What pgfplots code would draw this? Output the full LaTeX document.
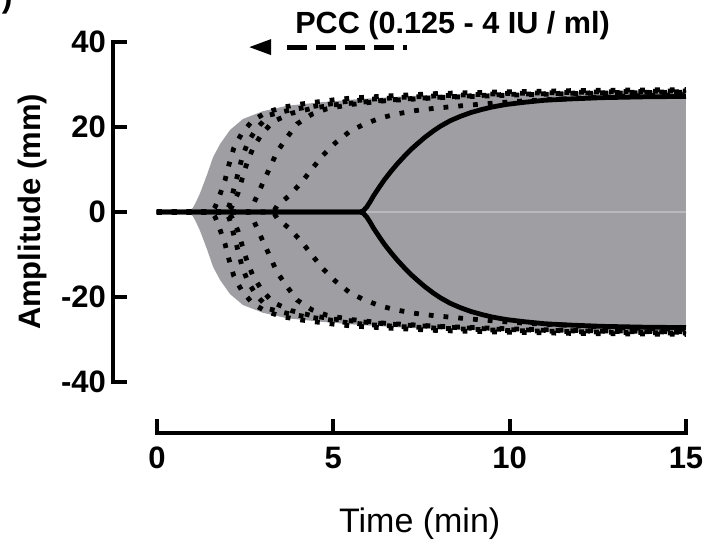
\documentclass[border=0pt]{standalone}
\usepackage{fontspec}
\setmainfont{Liberation Sans}
\usepackage{pgfplots}
\usepackage{pgfplotstable}
\pgfplotsset{compat=1.18}
\usepgfplotslibrary{fillbetween}

\definecolor{envgray}{RGB}{159,158,163}
\definecolor{seamgray}{RGB}{186,186,190}

% Amplitude envelope (half-width, mm) over all traces
\pgfplotstableread{
t a
0 0
0.85 0
0.95 0.5
1.02 1.0
1.12 2.6
1.22 4.4
1.32 6.6
1.42 8.8
1.59 12.9
1.79 16.0
2.07 19.3
2.44 21.9
3.0 23.7
3.69 25.0
4.62 25.8
5.76 26.6
7 27.2
8 27.6
10 28.0
12 28.3
15 28.6
}\envelope

% PCC traces (dotted), amplitude in mm
\pgfplotstableread{
t a
0 0
1.55 0
1.65 1.2
1.76 3.5
1.93 7.5
2.04 11.1
2.18 15.1
2.41 18.6
2.72 21.6
3.12 23.5
3.6 24.7
4.08 25.4
4.54 25.9
5.02 26.4
5.5 26.8
6.5 27.3
8 27.9
10 28.3
12 28.6
15 28.8
}\traceA

\pgfplotstableread{
t a
0 0
1.95 0
2.05 1.5
2.15 4.5
2.27 8.2
2.41 12.7
2.58 16.5
2.84 19.8
3.18 22.8
3.77 24.0
4.28 24.7
4.76 25.2
5.27 25.9
6 26.5
7 27.0
8.5 27.5
10 27.9
12 28.2
15 28.5
}\traceB

\pgfplotstableread{
t a
0 0
2.0 0
2.12 1.2
2.3 4.5
2.42 8.0
2.55 11.5
2.72 15.0
2.98 18.5
3.3 21.3
3.8 23.2
4.4 24.4
5 25.2
6 26.0
7 26.6
8.5 27.2
10 27.7
12 28.0
15 28.3
}\traceC

\pgfplotstableread{
t a
0 0
2.6 0
2.7 1.2
2.81 3.3
3.0 6.8
3.2 10.4
3.4 14.1
3.69 17.6
3.97 20.7
4.39 23.0
4.82 24.3
5.5 25.3
6.5 26.2
8 26.9
10 27.5
12 27.9
15 28.2
}\traceD

\pgfplotstableread{
t a
0 0
3.3 0
3.4 1.4
3.77 4.0
4.11 7.1
4.42 10.4
4.71 13.4
5.05 16.2
5.44 18.8
5.83 20.5
6.33 22.1
6.76 23.0
7.27 23.8
7.76 24.3
8.5 24.9
9.5 25.6
10.5 26.2
12 26.8
13.5 27.3
15 27.6
}\traceE

% Baseline trace (solid)
\pgfplotstableread{
t a
0 0
5.77 0
5.85 0.3
5.95 1.2
6.05 2.5
6.14 3.8
6.3 5.8
6.45 7.6
6.62 9.4
6.8 11.2
7.0 13.0
7.2 14.7
7.39 16.1
7.6 17.6
7.84 19.1
8.04 20.2
8.32 21.5
8.6 22.5
8.9 23.4
9.2 24.1
9.5 24.7
9.9 25.3
10.4 25.8
11 26.3
11.7 26.6
12.6 26.9
13.8 27.1
15 27.2
}\traceS

\tikzset{
  dotted trace/.style={black, line width=2.4pt, dash pattern=on 2.4pt off 5pt},
  solid trace/.style={black, line width=2.4pt},
}

\begin{document}
\begin{tikzpicture}[x=1pt,y=1pt]
\begin{axis}[
  at={(0,0)}, anchor=south west,
  scale only axis, width=286.5pt, height=195.5pt,
  xmin=-1.247, xmax=15, ymin=-52, ymax=40,
  axis x line=bottom, axis y line=left,
  axis line style={-, line width=2pt, line cap=rect, black},
  x axis line style={shorten <=22pt},
  y axis line style={shorten <=25.5pt},
  xtick={0,5,10,15}, ytick={-40,-20,0,20,40},
  minor tick num=0,
  tick align=inside, major tick length=6pt,
  tick style={line width=2pt, black, line cap=rect},
  /pgf/number format/assume math mode=true,
  tick label style={font=\bfseries\fontsize{15.5}{18}\selectfont},
  xticklabel style={yshift=-3.5pt},
  xlabel={Time (min)},
  ylabel={Amplitude (mm)},
  xlabel style={at={(axis cs:7.45,-75.3)}, anchor=base, font=\fontsize{17}{20}\selectfont},
  ylabel style={at={(axis cs:-3.52,0)}, anchor=center, font=\bfseries\fontsize{15.5}{18}\selectfont},
  clip=false,
]
  % grey envelope
  \addplot[draw=none, name path=envU] table[x=t, y=a] {\envelope};
  \addplot[draw=none, name path=envL] table[x=t, y expr=-\thisrow{a}] {\envelope};
  \addplot[envgray, draw=none] fill between[of=envU and envL];
  \addplot[seamgray, line width=0.6pt] coordinates {(5.8,0) (15,0)};

  % dotted PCC traces
  \addplot[dotted trace] table[x=t, y=a] {\traceA};
  \addplot[dotted trace] table[x=t, y expr=-\thisrow{a}] {\traceA};
  \addplot[dotted trace] table[x=t, y=a] {\traceB};
  \addplot[dotted trace] table[x=t, y expr=-\thisrow{a}] {\traceB};
  \addplot[dotted trace] table[x=t, y=a] {\traceC};
  \addplot[dotted trace] table[x=t, y expr=-\thisrow{a}] {\traceC};
  \addplot[dotted trace] table[x=t, y=a] {\traceD};
  \addplot[dotted trace] table[x=t, y expr=-\thisrow{a}] {\traceD};
  \addplot[dotted trace] table[x=t, y=a] {\traceE};
  \addplot[dotted trace] table[x=t, y expr=-\thisrow{a}] {\traceE};

  % solid baseline trace
  \addplot[solid trace] table[x=t, y=a] {\traceS};
  \addplot[solid trace] table[x=t, y expr=-\thisrow{a}] {\traceS};

  % dose annotation
  \node[anchor=base west, inner sep=0, font=\bfseries\fontsize{15.3}{18}\selectfont]
    at (axis cs:3.91,42.1) {PCC (0.125 - 4 IU / ml)};
  \fill[black] (axis cs:2.62,38.8) -- (axis cs:3.24,40.7) -- (axis cs:3.24,36.9) -- cycle;
  \draw[black, line width=2.5pt, dash pattern=on 10pt off 4.5pt]
    (axis cs:3.69,38.8) -- (axis cs:7.09,38.8);
\end{axis}
\node[anchor=base east, inner sep=0, font=\bfseries\fontsize{16}{18}\selectfont] at (-50,212.5) {)};
\pgfresetboundingbox
\useasboundingbox (-56.5,-54.5) rectangle (303.5,216.5);
\end{tikzpicture}
\end{document}
